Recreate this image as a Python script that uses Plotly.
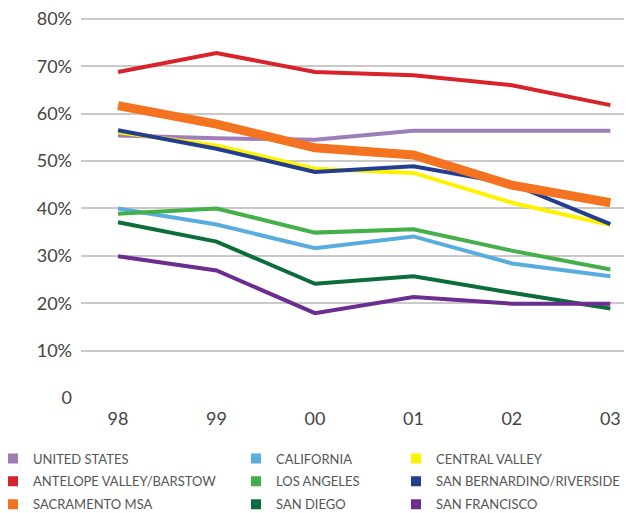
import plotly.graph_objects as go

years = ["98", "99", "00", "01", "02", "03"]
y_tick_vals = [0, 10, 20, 30, 40, 50, 60, 70, 80]
y_tick_text = ["0", "10%", "20%", "30%", "40%", "50%", "60%", "70%", "80%"]

united_states = [55.4, 54.8, 54.5, 56.4, 56.4, 56.4]
california = [40.0, 36.6, 31.6, 34.1, 28.4, 25.7]
central_valley = [56.1, 53.3, 48.4, 47.5, 41.2, 36.5]
antelope_valley = [68.8, 72.8, 68.8, 68.1, 66.0, 61.8]
los_angeles = [38.9, 40.0, 34.9, 35.6, 31.1, 27.1]
san_bernardino = [56.5, 52.6, 47.7, 48.9, 45.2, 36.7]
sacramento = [61.7, 57.8, 52.8, 51.3, 44.9, 41.2]
san_diego = [37.1, 33.0, 24.1, 25.7, 22.2, 18.9]
san_francisco = [29.9, 26.9, 17.9, 21.3, 19.9, 19.9]

series = [
    ("UNITED STATES", united_states, "#9F7DB9", 4, "legend"),
    ("CALIFORNIA", california, "#58ACDE", 4, "legend2"),
    ("CENTRAL VALLEY", central_valley, "#FFF200", 4, "legend3"),
    ("ANTELOPE VALLEY/BARSTOW", antelope_valley, "#D8232A", 4, "legend"),
    ("LOS ANGELES", los_angeles, "#45B04A", 4, "legend2"),
    ("SAN BERNARDINO/RIVERSIDE", san_bernardino, "#233E8F", 4, "legend3"),
    ("SACRAMENTO MSA", sacramento, "#F37321", 9, "legend"),
    ("SAN DIEGO", san_diego, "#0B6E3A", 4, "legend2"),
    ("SAN FRANCISCO", san_francisco, "#6B2D8F", 4, "legend3"),
]

draw_order = ["UNITED STATES", "CALIFORNIA", "LOS ANGELES", "SAN DIEGO", "SAN FRANCISCO",
              "ANTELOPE VALLEY/BARSTOW", "CENTRAL VALLEY", "SAN BERNARDINO/RIVERSIDE", "SACRAMENTO MSA"]

fig = go.Figure()
lookup = {s[0]: s for s in series}
for name in draw_order:
    n, vals, col, w, lg = lookup[name]
    fig.add_trace(go.Scatter(x=years, y=vals, mode="lines", name=n,
                             line=dict(color=col, width=w), showlegend=False,
                             hoverinfo="skip"))

for n, vals, col, w, lg in series:
    fig.add_trace(go.Scatter(x=[years[0]], y=[None], mode="markers", name=n,
                             marker=dict(symbol="square", size=10, color=col),
                             legend=lg, legendgroup=n, showlegend=True,
                             hoverinfo="skip"))

W, H = 624, 505
font_family = "Lato"
legend_common = dict(xref="container", yref="container", yanchor="top", xanchor="left",
                     orientation="v", bgcolor="rgba(0,0,0,0)", tracegroupgap=3,
                     indentation=-15,
                     font=dict(family=font_family, size=13, color="#555555"))
ytop = 1 - 435.5 / H

fig.update_layout(
    width=W, height=H,
    margin=dict(l=73, r=0, t=9, b=115, autoexpand=False),
    paper_bgcolor="white", plot_bgcolor="white",
    font=dict(family=font_family, color="#444444"),
    legend=dict(x=0.0, y=ytop, **legend_common),
    legend2=dict(x=243 / W, y=ytop, **legend_common),
    legend3=dict(x=403 / W, y=ytop, **legend_common),
    xaxis=dict(type="category", categoryorder="array", categoryarray=years,
               range=[-0.376, 5.22], showgrid=False, zeroline=False, showline=False,
               tickfont=dict(size=18, color="#444444"), ticklabelstandoff=8),
    yaxis=dict(range=[0, 80.4], tickvals=y_tick_vals, ticktext=y_tick_text,
               showgrid=True, gridcolor="#C9C9C9", gridwidth=1.5, zeroline=False,
               showline=False, tickfont=dict(size=18, color="#444444"),
               ticklabelstandoff=8, ticklabeloverflow="allow"),
)

fig.write_html("out.html")
